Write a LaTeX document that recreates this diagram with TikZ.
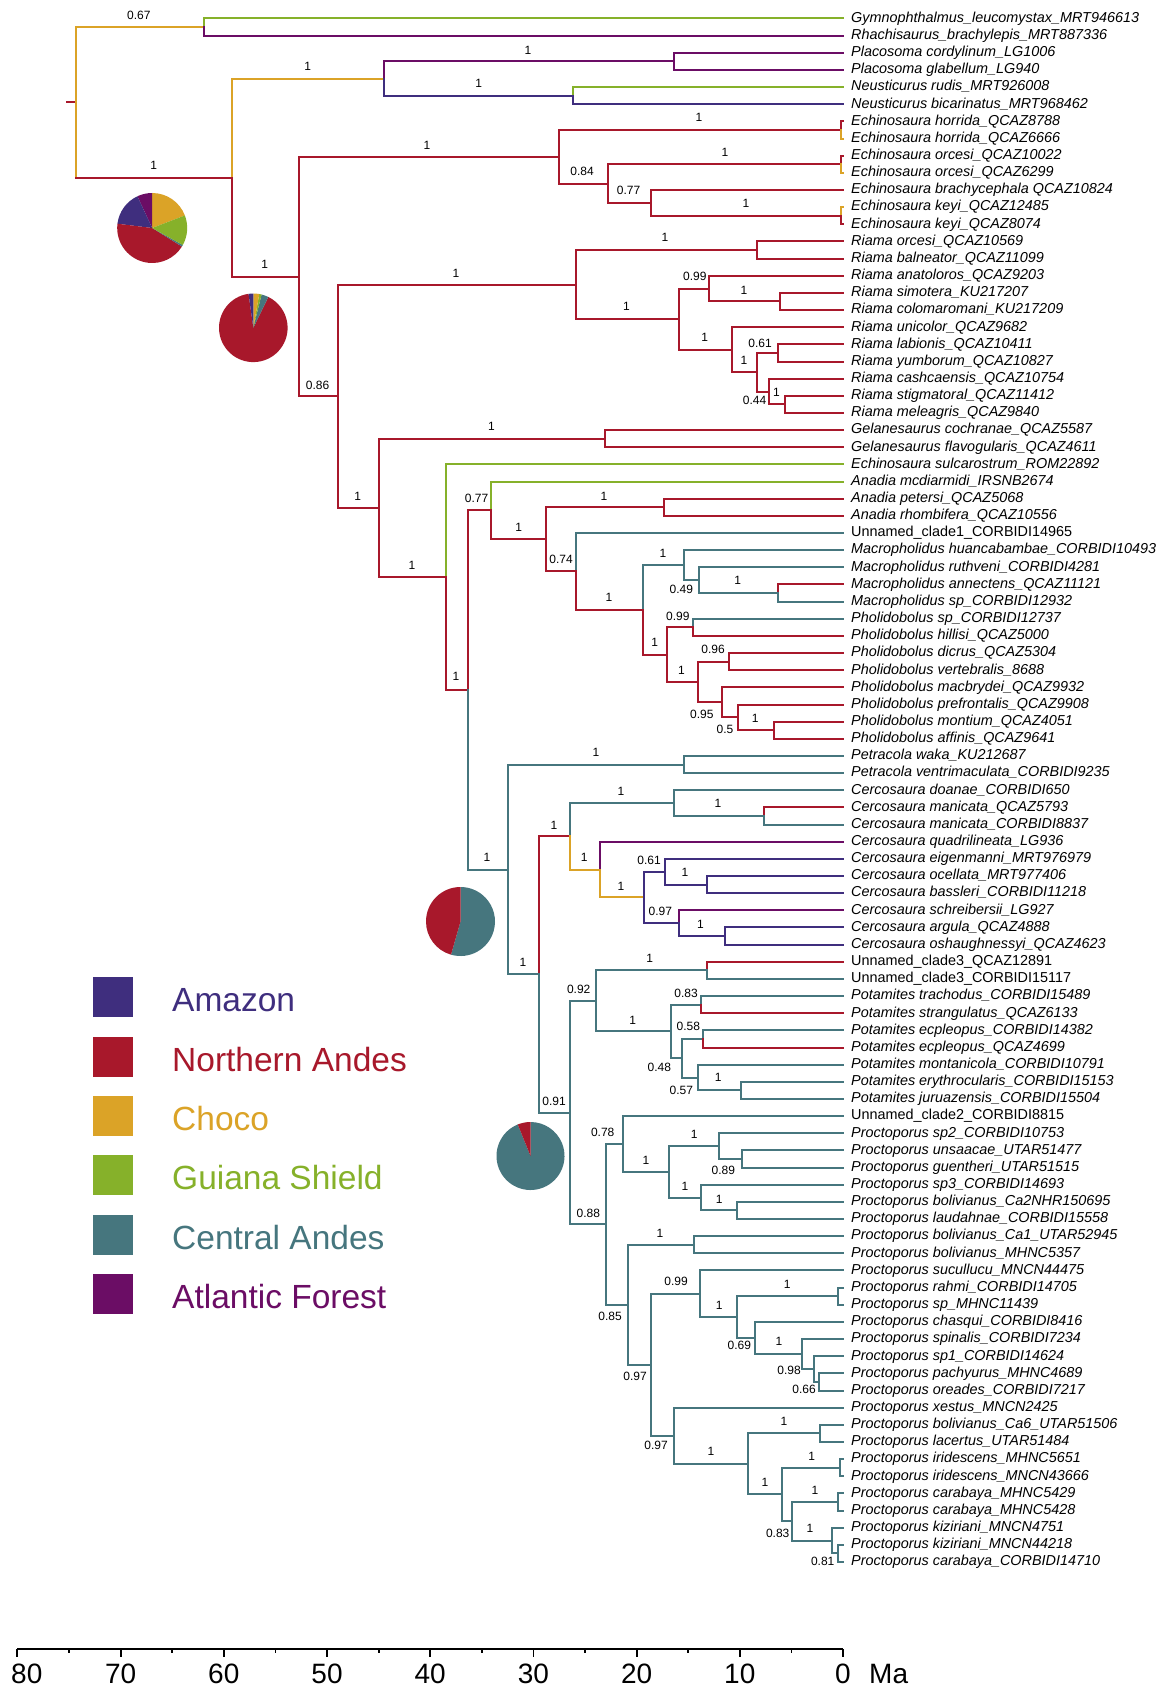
\documentclass[tikz,border=0pt]{standalone}
\usepackage{fontspec}
\setmainfont{Liberation Sans}
\definecolor{AM}{RGB}{63,46,126}
\definecolor{NA}{RGB}{168,24,43}
\definecolor{CH}{RGB}{219,163,39}
\definecolor{GS}{RGB}{134,177,42}
\definecolor{CA}{RGB}{70,118,126}
\definecolor{AF}{RGB}{107,13,101}
\newcommand{\brn}[4]{\draw[branch,#1] (#3) -- (#3 |- #4); \draw[branch,#2] (#3 |- #4) -- (#4);}
\newcommand{\br}[3]{\brn{#1}{#1}{#2}{#3}}
\newcommand{\tiplab}[2]{\node[tipl] (L#1) at (t#1) {#2};}
\newcommand{\tipup}[2]{\node[tipu] (L#1) at (t#1) {#2};}
\newcommand{\bsl}[4]{\node[bsl] (#1) at (#2,#3) {#4};}
\begin{document}
\begin{tikzpicture}[x=1pt,y=-1pt,
  branch/.style={line width=2pt,line cap=rect},
  tipl/.style={anchor=base west,inner sep=0pt,xshift=8pt,yshift=-3.8pt,font=\fontsize{14.4}{16}\selectfont\itshape},
  tipu/.style={tipl,font=\fontsize{14.4}{16}\selectfont\upshape},
  bsl/.style={inner sep=0pt,font=\fontsize{12}{14}\selectfont},
  axl/.style={inner sep=0pt,font=\fontsize{28}{30}\selectfont},
  axisline/.style={line width=1.8pt,black},
  legl/.style={inner sep=0pt,anchor=base west,font=\fontsize{33.5}{36}\selectfont}]
\useasboundingbox (0,0) rectangle (1162,1688);
\fill[white] (0,0) rectangle (1162,1688);
% tips
\foreach \i in {1,...,91} {\coordinate (t\i) at (843,{18.5+17.15*(\i-1)});}
% internal nodes
\coordinate (Rs) at (67,102.3);
\coordinate (R0) at (75.5,102.3);
\coordinate (A) at (204.3,27.08);
\coordinate (B) at (232.4,177.52);
\coordinate (C) at (383.7,78.53);
\coordinate (Pl) at (673.6,61.38);
\coordinate (Ne) at (573,95.68);
\coordinate (D) at (298.5,276.52);
\coordinate (Ech) at (559,156.77);
\coordinate (horr) at (840.5,129.98);
\coordinate (G) at (607.5,183.57);
\coordinate (orc) at (840.5,164.28);
\coordinate (H) at (651,202.86);
\coordinate (keyi) at (840.5,215.73);
\coordinate (E) at (338,396.26);
\coordinate (R) at (575.8,284.59);
\coordinate (RO) at (756.7,250.03);
\coordinate (S) at (679.3,319.16);
\coordinate (T) at (708.8,288.61);
\coordinate (V) at (780,301.48);
\coordinate (U) at (732,349.71);
\coordinate (W) at (756.7,372.22);
\coordinate (X) at (777.8,352.93);
\coordinate (Y) at (769.4,391.51);
\coordinate (Z) at (784.8,404.38);
\coordinate (F) at (378.8,507.93);
\coordinate (Gel) at (605.4,438.68);
\coordinate (I) at (446.3,577.19);
\coordinate (J) at (468.2,689.98);
\coordinate (K) at (490.7,510.46);
\coordinate (L) at (545.6,539.36);
\coordinate (An) at (663.8,507.28);
\coordinate (M) at (575.8,571.45);
\coordinate (N) at (642.7,609.91);
\coordinate (O) at (684.2,565.16);
\coordinate (Q) at (699,580.16);
\coordinate (Q2) at (777.8,593.03);
\coordinate (P) at (666.6,654.66);
\coordinate (P1) at (693.3,627.33);
\coordinate (P2) at (697.6,681.99);
\coordinate (P3) at (728.5,661.63);
\coordinate (P4) at (721.5,702.36);
\coordinate (P5) at (737.7,717.36);
\coordinate (P6) at (774.3,730.23);
\coordinate (J2) at (508.3,869.5);
\coordinate (Pet) at (684.2,764.53);
\coordinate (Kx) at (538.5,974.48);
\coordinate (Cc) at (570.2,836.34);
\coordinate (Cc1) at (673.6,803.11);
\coordinate (man) at (763.7,815.98);
\coordinate (Cc2) at (599.8,869.57);
\coordinate (Cc3) at (644.1,897.44);
\coordinate (Cc4) at (665.2,871.71);
\coordinate (oc) at (707.4,884.58);
\coordinate (Cc5) at (679.3,923.16);
\coordinate (ar) at (725,936.03);
\coordinate (PP) at (570.2,1112.62);
\coordinate (PQ) at (596.2,1000.87);
\coordinate (U3) at (707.4,970.33);
\coordinate (PQ2) at (670.7,1031.42);
\coordinate (PQ3) at (701,1004.63);
\coordinate (PQ5) at (682.3,1058.22);
\coordinate (PQ6) at (703.3,1038.93);
\coordinate (PQ7) at (698.3,1077.51);
\coordinate (ej) at (740.7,1090.38);
\coordinate (PR) at (606,1224.36);
\coordinate (PS) at (623.3,1143.97);
\coordinate (PS2) at (669.3,1171.84);
\coordinate (PS3) at (719.3,1146.11);
\coordinate (PS5) at (742.3,1158.98);
\coordinate (PS4) at (700.7,1197.56);
\coordinate (PS6) at (737.3,1210.43);
\coordinate (PU) at (627.7,1304.75);
\coordinate (PV) at (694.3,1244.73);
\coordinate (PT) at (651,1364.78);
\coordinate (PW) at (700,1293.77);
\coordinate (rah) at (838.3,1296.18);
\coordinate (PY) at (737.3,1317.08);
\coordinate (PZ) at (755,1337.98);
\coordinate (PZ2) at (802.3,1354.06);
\coordinate (PZ3) at (814,1369.06);
\coordinate (PZ4) at (818.7,1381.93);
\coordinate (PX) at (674.3,1435.79);
\coordinate (PX2) at (747.7,1463.92);
\coordinate (PX3) at (820,1433.38);
\coordinate (PX4) at (781.7,1494.47);
\coordinate (ir) at (840,1467.68);
\coordinate (PX5) at (792.3,1521.27);
\coordinate (ca) at (838.3,1501.98);
\coordinate (PX6) at (831.7,1540.56);
\coordinate (PX7) at (838.3,1553.43);
% branches
\draw[branch,NA] (Rs) -- (R0);
\br{CH}{R0}{A} \br{GS}{A}{t1} \br{AF}{A}{t2}
\brn{CH}{NA}{R0}{B}
\br{CH}{B}{C}
\br{AF}{C}{Pl} \br{AF}{Pl}{t3} \br{AF}{Pl}{t4}
\br{AM}{C}{Ne} \br{GS}{Ne}{t5} \br{AM}{Ne}{t6}
\br{NA}{B}{D}
\br{NA}{D}{Ech} \br{NA}{Ech}{horr} \br{NA}{horr}{t7} \br{CH}{horr}{t8}
\br{NA}{Ech}{G} \br{NA}{G}{orc} \br{NA}{orc}{t9} \br{CH}{orc}{t10}
\br{NA}{G}{H} \br{NA}{H}{t11} \br{NA}{H}{keyi} \br{CH}{keyi}{t12} \br{NA}{keyi}{t13}
\br{NA}{D}{E}
\br{NA}{E}{R} \br{NA}{R}{RO} \br{NA}{RO}{t14} \br{NA}{RO}{t15}
\br{NA}{R}{S} \br{NA}{S}{T} \br{NA}{T}{t16} \br{NA}{T}{V} \br{NA}{V}{t17} \br{NA}{V}{t18}
\br{NA}{S}{U} \br{NA}{U}{t19} \br{NA}{U}{W} \br{NA}{W}{X} \br{NA}{X}{t20} \br{NA}{X}{t21}
\br{NA}{W}{Y} \br{NA}{Y}{t22} \br{NA}{Y}{Z} \br{NA}{Z}{t23} \br{NA}{Z}{t24}
\br{NA}{E}{F} \br{NA}{F}{Gel} \br{NA}{Gel}{t25} \br{NA}{Gel}{t26}
\br{NA}{F}{I} \br{GS}{I}{t27} \br{NA}{I}{J}
\br{NA}{J}{K} \br{GS}{K}{t28} \br{NA}{K}{L} \br{NA}{L}{An} \br{NA}{An}{t29} \br{NA}{An}{t30} \br{NA}{L}{M}
\br{CA}{M}{t31} \br{NA}{M}{N}
\br{CA}{N}{O} \br{CA}{O}{t32} \br{CA}{O}{Q} \br{CA}{Q}{t33} \br{CA}{Q}{Q2} \br{NA}{Q2}{t34} \br{CA}{Q2}{t35}
\br{NA}{N}{P} \br{NA}{P}{P1} \br{CA}{P1}{t36} \br{NA}{P1}{t37}
\br{NA}{P}{P2} \br{NA}{P2}{P3} \br{NA}{P3}{t38} \br{NA}{P3}{t39} \br{NA}{P2}{P4} \br{NA}{P4}{t40}
\br{NA}{P4}{P5} \br{NA}{P5}{t41} \br{NA}{P5}{P6} \br{NA}{P6}{t42} \br{NA}{P6}{t43}
\br{CA}{J}{J2} \br{CA}{J2}{Pet} \br{CA}{Pet}{t44} \br{CA}{Pet}{t45} \br{CA}{J2}{Kx}
\br{NA}{Kx}{Cc}
\br{CA}{Cc}{Cc1} \br{CA}{Cc1}{t46} \br{CA}{Cc1}{man} \br{NA}{man}{t47} \br{CA}{man}{t48}
\br{CH}{Cc}{Cc2} \br{AF}{Cc2}{t49} \br{CH}{Cc2}{Cc3}
\br{AM}{Cc3}{Cc4} \br{AM}{Cc4}{t50} \br{AM}{Cc4}{oc} \br{AM}{oc}{t51} \br{AM}{oc}{t52}
\br{AM}{Cc3}{Cc5} \br{AF}{Cc5}{t53} \br{AM}{Cc5}{ar} \br{AM}{ar}{t54} \br{AM}{ar}{t55}
\br{CA}{Kx}{PP}
\br{CA}{PP}{PQ} \br{CA}{PQ}{U3} \br{NA}{U3}{t56} \br{CA}{U3}{t57}
\br{CA}{PQ}{PQ2} \br{CA}{PQ2}{PQ3} \br{CA}{PQ3}{t58} \br{NA}{PQ3}{t59}
\br{CA}{PQ2}{PQ5} \br{CA}{PQ5}{PQ6} \br{CA}{PQ6}{t60} \br{NA}{PQ6}{t61}
\br{CA}{PQ5}{PQ7} \br{CA}{PQ7}{t62} \br{CA}{PQ7}{ej} \br{CA}{ej}{t63} \br{CA}{ej}{t64}
\br{CA}{PP}{PR} \br{CA}{PR}{PS} \br{CA}{PS}{t65} \br{CA}{PS}{PS2}
\br{CA}{PS2}{PS3} \br{CA}{PS3}{t66} \br{CA}{PS3}{PS5} \br{CA}{PS5}{t67} \br{CA}{PS5}{t68}
\br{CA}{PS2}{PS4} \br{CA}{PS4}{t69} \br{CA}{PS4}{PS6} \br{CA}{PS6}{t70} \br{CA}{PS6}{t71}
\br{CA}{PR}{PU} \br{CA}{PU}{PV} \br{CA}{PV}{t72} \br{CA}{PV}{t73}
\br{CA}{PU}{PT} \br{CA}{PT}{PW} \br{CA}{PW}{t74} \br{CA}{PW}{PY} \br{CA}{PY}{rah} \br{CA}{rah}{t75} \br{CA}{rah}{t76}
\br{CA}{PY}{PZ} \br{CA}{PZ}{t77} \br{CA}{PZ}{PZ2} \br{CA}{PZ2}{t78} \br{CA}{PZ2}{PZ3} \br{CA}{PZ3}{t79}
\br{CA}{PZ3}{PZ4} \br{CA}{PZ4}{t80} \br{CA}{PZ4}{t81}
\br{CA}{PT}{PX} \br{CA}{PX}{t82} \br{CA}{PX}{PX2} \br{CA}{PX2}{PX3} \br{CA}{PX3}{t83} \br{CA}{PX3}{t84}
\br{CA}{PX2}{PX4} \br{CA}{PX4}{ir} \br{CA}{ir}{t85} \br{CA}{ir}{t86}
\br{CA}{PX4}{PX5} \br{CA}{PX5}{ca} \br{CA}{ca}{t87} \br{CA}{ca}{t88}
\br{CA}{PX5}{PX6} \br{CA}{PX6}{t89} \br{CA}{PX6}{PX7} \br{CA}{PX7}{t90} \br{CA}{PX7}{t91}
% support values
\bsl{bA}{138.8}{15}{0.67}
\bsl{bB}{153.6}{165}{1}
\bsl{bC}{307.7}{66.7}{1}
\bsl{bPl}{528}{50}{1}
\bsl{bNe}{478.7}{83.3}{1}
\bsl{bEch}{427}{145}{1}
\bsl{bhorr}{699}{117.3}{1}
\bsl{bG}{582}{171.7}{0.84}
\bsl{borc}{725}{152.7}{1}
\bsl{bH}{628.6}{190.7}{0.77}
\bsl{bkeyi}{746}{203.3}{1}
\bsl{bD}{264.8}{264}{1}
\bsl{bRO}{665}{237.3}{1}
\bsl{bR}{456}{273.3}{1}
\bsl{bS}{626.5}{306.7}{1}
\bsl{bT}{694.8}{276}{0.99}
\bsl{bV}{744}{290}{1}
\bsl{bU}{704.6}{337.3}{1}
\bsl{bX}{760}{343.3}{0.61}
\bsl{bW}{744}{360}{1}
\bsl{bZ}{776.4}{392.7}{1}
\bsl{bY}{754.6}{400.7}{0.44}
\bsl{bE}{317.6}{385}{0.86}
\bsl{bGel}{491.4}{426}{1}
\bsl{bF}{357.7}{496}{1}
\bsl{bK}{476.6}{498.7}{0.77}
\bsl{bAn}{604}{496}{1}
\bsl{bL}{518.8}{527.3}{1}
\bsl{bM}{561}{559.3}{0.74}
\bsl{bI}{411.9}{565}{1}
\bsl{bO}{663}{553.3}{1}
\bsl{bQ}{681.4}{589.3}{0.49}
\bsl{bQ2}{737.7}{580.7}{1}
\bsl{bN}{609}{597.3}{1}
\bsl{bP1}{677.8}{616}{0.99}
\bsl{bP}{654.7}{642.7}{1}
\bsl{bP3}{713}{649.3}{0.96}
\bsl{bP2}{681.4}{670}{1}
\bsl{bJ}{456}{676.7}{1}
\bsl{bP4}{701.8}{714.3}{0.95}
\bsl{bP6}{755.3}{718.3}{1}
\bsl{bP5}{725}{729.3}{0.5}
\bsl{bPet}{596}{752.7}{1}
\bsl{bCc1}{621}{791.7}{1}
\bsl{bman}{718}{803.3}{1}
\bsl{bCc}{554}{825}{1}
\bsl{bJ2}{487}{857.7}{1}
\bsl{bCc2}{584.3}{857.7}{1}
\bsl{bCc4}{649}{860}{0.61}
\bsl{boc}{685}{872.7}{1}
\bsl{bCc3}{620.9}{886}{1}
\bsl{bCc5}{660.3}{911.7}{0.97}
\bsl{bar}{700.4}{924}{1}
\bsl{bU3}{649.7}{958.3}{1}
\bsl{bKx}{523}{962.7}{1}
\bsl{bPQ}{578.7}{989.3}{0.92}
\bsl{bPQ3}{686}{993.3}{0.83}
\bsl{bPQ2}{632.7}{1020}{1}
\bsl{bPQ6}{688.3}{1026.7}{0.58}
\bsl{bPQ5}{659.3}{1067.5}{0.48}
\bsl{bej}{718.3}{1077}{1}
\bsl{bPQ7}{681.4}{1090}{0.57}
\bsl{bPP}{554}{1101}{0.91}
\bsl{bPS}{602.7}{1132.3}{0.78}
\bsl{bPS3}{694.3}{1134.3}{1}
\bsl{bPS2}{646}{1160}{1}
\bsl{bPS5}{723.3}{1170.7}{0.89}
\bsl{bPS4}{685}{1186}{1}
\bsl{bPS6}{719.3}{1199}{1}
\bsl{bPR}{588.3}{1213.3}{0.88}
\bsl{bPV}{660}{1233.3}{1}
\bsl{bPW}{676}{1281.7}{0.99}
\bsl{brah}{787.3}{1284.3}{1}
\bsl{bPY}{719.3}{1305}{1}
\bsl{bPU}{610}{1316.7}{0.85}
\bsl{bPZ}{739.3}{1345.7}{0.69}
\bsl{bPZ2}{779}{1341.7}{1}
\bsl{bPZ3}{789}{1370.7}{0.98}
\bsl{bPZ4}{804}{1389.3}{0.66}
\bsl{bPT}{635}{1376.7}{0.97}
\bsl{bPX}{656}{1445.7}{0.97}
\bsl{bPX3}{784}{1421.7}{1}
\bsl{bPX2}{711}{1451.7}{1}
\bsl{bir}{811.7}{1456}{1}
\bsl{bPX4}{765}{1482.7}{1}
\bsl{bca}{815}{1490}{1}
\bsl{bPX6}{810}{1528.3}{1}
\bsl{bPX5}{777.7}{1533.3}{0.83}
\bsl{bPX7}{822.7}{1561.7}{0.81}
% tip labels
\tiplab{1}{Gymnophthalmus\_leucomystax\_MRT946613}
\tiplab{2}{Rhachisaurus\_brachylepis\_MRT887336}
\tiplab{3}{Placosoma cordylinum\_LG1006}
\tiplab{4}{Placosoma glabellum\_LG940}
\tiplab{5}{Neusticurus rudis\_MRT926008}
\tiplab{6}{Neusticurus bicarinatus\_MRT968462}
\tiplab{7}{Echinosaura horrida\_QCAZ8788}
\tiplab{8}{Echinosaura horrida\_QCAZ6666}
\tiplab{9}{Echinosaura orcesi\_QCAZ10022}
\tiplab{10}{Echinosaura orcesi\_QCAZ6299}
\tiplab{11}{Echinosaura brachycephala QCAZ10824}
\tiplab{12}{Echinosaura keyi\_QCAZ12485}
\tiplab{13}{Echinosaura keyi\_QCAZ8074}
\tiplab{14}{Riama orcesi\_QCAZ10569}
\tiplab{15}{Riama balneator\_QCAZ11099}
\tiplab{16}{Riama anatoloros\_QCAZ9203}
\tiplab{17}{Riama simotera\_KU217207}
\tiplab{18}{Riama colomaromani\_KU217209}
\tiplab{19}{Riama unicolor\_QCAZ9682}
\tiplab{20}{Riama labionis\_QCAZ10411}
\tiplab{21}{Riama yumborum\_QCAZ10827}
\tiplab{22}{Riama cashcaensis\_QCAZ10754}
\tiplab{23}{Riama stigmatoral\_QCAZ11412}
\tiplab{24}{Riama meleagris\_QCAZ9840}
\tiplab{25}{Gelanesaurus cochranae\_QCAZ5587}
\tiplab{26}{Gelanesaurus flavogularis\_QCAZ4611}
\tiplab{27}{Echinosaura sulcarostrum\_ROM22892}
\tiplab{28}{Anadia mcdiarmidi\_IRSNB2674}
\tiplab{29}{Anadia petersi\_QCAZ5068}
\tiplab{30}{Anadia rhombifera\_QCAZ10556}
\tipup{31}{Unnamed\_clade1\_CORBIDI14965}
\tiplab{32}{Macropholidus huancabambae\_CORBIDI10493}
\tiplab{33}{Macropholidus ruthveni\_CORBIDI4281}
\tiplab{34}{Macropholidus annectens\_QCAZ11121}
\tiplab{35}{Macropholidus sp\_CORBIDI12932}
\tiplab{36}{Pholidobolus sp\_CORBIDI12737}
\tiplab{37}{Pholidobolus hillisi\_QCAZ5000}
\tiplab{38}{Pholidobolus dicrus\_QCAZ5304}
\tiplab{39}{Pholidobolus vertebralis\_8688}
\tiplab{40}{Pholidobolus macbrydei\_QCAZ9932}
\tiplab{41}{Pholidobolus prefrontalis\_QCAZ9908}
\tiplab{42}{Pholidobolus montium\_QCAZ4051}
\tiplab{43}{Pholidobolus affinis\_QCAZ9641}
\tiplab{44}{Petracola waka\_KU212687}
\tiplab{45}{Petracola ventrimaculata\_CORBIDI9235}
\tiplab{46}{Cercosaura doanae\_CORBIDI650}
\tiplab{47}{Cercosaura manicata\_QCAZ5793}
\tiplab{48}{Cercosaura manicata\_CORBIDI8837}
\tiplab{49}{Cercosaura quadrilineata\_LG936}
\tiplab{50}{Cercosaura eigenmanni\_MRT976979}
\tiplab{51}{Cercosaura ocellata\_MRT977406}
\tiplab{52}{Cercosaura bassleri\_CORBIDI11218}
\tiplab{53}{Cercosaura schreibersii\_LG927}
\tiplab{54}{Cercosaura argula\_QCAZ4888}
\tiplab{55}{Cercosaura oshaughnessyi\_QCAZ4623}
\tipup{56}{Unnamed\_clade3\_QCAZ12891}
\tipup{57}{Unnamed\_clade3\_CORBIDI15117}
\tiplab{58}{Potamites trachodus\_CORBIDI15489}
\tiplab{59}{Potamites strangulatus\_QCAZ6133}
\tiplab{60}{Potamites ecpleopus\_CORBIDI14382}
\tiplab{61}{Potamites ecpleopus\_QCAZ4699}
\tiplab{62}{Potamites montanicola\_CORBIDI10791}
\tiplab{63}{Potamites erythrocularis\_CORBIDI15153}
\tiplab{64}{Potamites juruazensis\_CORBIDI15504}
\tipup{65}{Unnamed\_clade2\_CORBIDI8815}
\tiplab{66}{Proctoporus sp2\_CORBIDI10753}
\tiplab{67}{Proctoporus unsaacae\_UTAR51477}
\tiplab{68}{Proctoporus guentheri\_UTAR51515}
\tiplab{69}{Proctoporus sp3\_CORBIDI14693}
\tiplab{70}{Proctoporus bolivianus\_Ca2NHR150695}
\tiplab{71}{Proctoporus laudahnae\_CORBIDI15558}
\tiplab{72}{Proctoporus bolivianus\_Ca1\_UTAR52945}
\tiplab{73}{Proctoporus bolivianus\_MHNC5357}
\tiplab{74}{Proctoporus sucullucu\_MNCN44475}
\tiplab{75}{Proctoporus rahmi\_CORBIDI14705}
\tiplab{76}{Proctoporus sp\_MHNC11439}
\tiplab{77}{Proctoporus chasqui\_CORBIDI8416}
\tiplab{78}{Proctoporus spinalis\_CORBIDI7234}
\tiplab{79}{Proctoporus sp1\_CORBIDI14624}
\tiplab{80}{Proctoporus pachyurus\_MHNC4689}
\tiplab{81}{Proctoporus oreades\_CORBIDI7217}
\tiplab{82}{Proctoporus xestus\_MNCN2425}
\tiplab{83}{Proctoporus bolivianus\_Ca6\_UTAR51506}
\tiplab{84}{Proctoporus lacertus\_UTAR51484}
\tiplab{85}{Proctoporus iridescens\_MHNC5651}
\tiplab{86}{Proctoporus iridescens\_MNCN43666}
\tiplab{87}{Proctoporus carabaya\_MHNC5429}
\tiplab{88}{Proctoporus carabaya\_MHNC5428}
\tiplab{89}{Proctoporus kiziriani\_MNCN4751}
\tiplab{90}{Proctoporus kiziriani\_MNCN44218}
\tiplab{91}{Proctoporus carabaya\_CORBIDI14710}
% pies
\coordinate (pie1) at (152.2,228);
\fill[CH] (pie1) -- ++(21:35pt) arc[start angle=21,end angle=90,radius=35pt] -- cycle;
\fill[AF] (pie1) -- ++(90:35pt) arc[start angle=90,end angle=115,radius=35pt] -- cycle;
\fill[AM] (pie1) -- ++(115:35pt) arc[start angle=115,end angle=173,radius=35pt] -- cycle;
\fill[NA] (pie1) -- ++(173:35pt) arc[start angle=173,end angle=328,radius=35pt] -- cycle;
\fill[CA] (pie1) -- ++(328:35pt) arc[start angle=328,end angle=331,radius=35pt] -- cycle;
\fill[GS] (pie1) -- ++(331:35pt) arc[start angle=331,end angle=381,radius=35pt] -- cycle;
\coordinate (pie2) at (253.3,327.8);
\fill[NA] (pie2) -- ++(98:34.3pt) arc[start angle=98,end angle=424,radius=34.3pt] -- cycle;
\fill[CA] (pie2) -- ++(64:34.3pt) arc[start angle=64,end angle=76,radius=34.3pt] -- cycle;
\fill[GS] (pie2) -- ++(76:34.3pt) arc[start angle=76,end angle=80,radius=34.3pt] -- cycle;
\fill[CH] (pie2) -- ++(80:34.3pt) arc[start angle=80,end angle=90,radius=34.3pt] -- cycle;
\fill[AM] (pie2) -- ++(90:34.3pt) arc[start angle=90,end angle=98,radius=34.3pt] -- cycle;
\coordinate (pie3) at (460.5,921.5);
\fill[CA] (pie3) -- ++(-106:34.5pt) arc[start angle=-106,end angle=90,radius=34.5pt] -- cycle;
\fill[NA] (pie3) -- ++(90:34.5pt) arc[start angle=90,end angle=254,radius=34.5pt] -- cycle;
\coordinate (pie4) at (530.5,1156);
\fill[CA] (pie4) -- ++(112:34pt) arc[start angle=112,end angle=450,radius=34pt] -- cycle;
\fill[NA] (pie4) -- ++(90:34pt) arc[start angle=90,end angle=112,radius=34pt] -- cycle;
% legend
\foreach \c/\n/\k in {AM/Amazon/0,NA/Northern Andes/1,CH/Choco/2,GS/Guiana Shield/3,CA/Central Andes/4,AF/Atlantic Forest/5}{
  \fill[\c] (93.3,{977.3+59.35*\k}) rectangle ++(39.4,40);
  \node[legl,text=\c] (lg\k) at (172,{977.3+59.35*\k+34.5}) {\n};
}
% time axis
\coordinate (ax80) at (17.4,1649.3);
\coordinate (ax0) at (843,1649.3);
\draw[axisline] (ax80) -- (ax0);
\foreach \a in {0,10,...,80}{
  \draw[axisline] ({843-10.32*\a},1649.3) -- ++(0,7.5);
}
\foreach \a in {0,10,...,70}{
  \node[axl] (al\a) at ({843-10.32*\a},1674) {\a};
}
\node[axl,anchor=west] (al80) at (11,1674) {80};
\foreach \a in {5,15,...,75}{
  \draw[axisline] ({843-10.32*\a},1649.3) -- ++(0,3.5);
}
\node[axl,anchor=west] (ma) at (869,1674) {Ma};
\end{tikzpicture}
\end{document}
